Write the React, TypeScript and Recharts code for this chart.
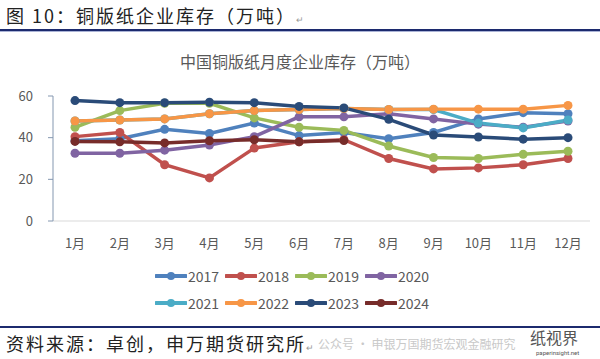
import React from 'react';
import { LineChart, Line, XAxis, YAxis } from 'recharts';

const months = ['1月', '2月', '3月', '4月', '5月', '6月', '7月', '8月', '9月', '10月', '11月', '12月'];
const yTicks = [0, 20, 40, 60];

const s2017 = [38.5, 39.5, 44, 42, 47, 41, 42.5, 39.5, 42.5, 49, 52, 51.5];
const s2018 = [40.5, 42.5, 27, 20.7, 35, 38, 39, 30, 25, 25.5, 27, 30];
const s2019 = [45, 53, 56.5, 56.5, 49.5, 45, 43.5, 36, 30.5, 30, 32, 33.5];
const s2020 = [32.5, 32.5, 34, 36.5, 40.5, 50, 50, 51.5, 49, 46.5, 45, 48];
const s2021 = [48, 48.5, 49, 51.5, 53, 53.5, 54, 53.5, 53.5, 47, 44.7, 48.5];
const s2022 = [48, 48.5, 49, 51.5, 53, 53.5, 54, 53.5, 53.7, 53.7, 53.7, 55.5];
const s2023 = [57.8, 56.8, 56.8, 57, 56.8, 55, 54.3, 48.8, 41.3, 40.3, 39.3, 40];
const s2024 = [38.2, 38, 37.5, 38.5, 39, 38, 38.6];

const series = [
  { key: '2017', values: s2017, color: '#4f81bd' },
  { key: '2018', values: s2018, color: '#c0504d' },
  { key: '2019', values: s2019, color: '#9bbb59' },
  { key: '2020', values: s2020, color: '#8064a2' },
  { key: '2021', values: s2021, color: '#4bacc6' },
  { key: '2022', values: s2022, color: '#f79646' },
  { key: '2023', values: s2023, color: '#2a4b78' },
  { key: '2024', values: s2024, color: '#772c2a' },
];

const data = months.map((m, i) => {
  const row: Record<string, string | number | undefined> = { month: m };
  series.forEach((s) => {
    row[s.key] = s.values[i];
  });
  return row;
});

const cjk = '"Noto Sans CJK SC", "Noto Sans", sans-serif';
const narrow = '"Liberation Sans Narrow", "Arial Narrow", "Noto Sans CJK SC", sans-serif';

function LegendBox() {
  return (
    <div style={{ width: 290, margin: '0 auto', display: 'flex', flexWrap: 'wrap' }}>
      {series.map((s) => (
        <div key={s.key} style={{ width: 70, height: 27, display: 'flex', alignItems: 'center' }}>
          <svg width={32} height={10}>
            <line x1={1} y1={5} x2={31} y2={5} stroke={s.color} strokeWidth={4} strokeLinecap="round" />
            <circle cx={16} cy={5} r={4} fill={s.color} />
          </svg>
          <span style={{ fontFamily: narrow, fontSize: 14, color: '#595959', marginLeft: 1 }}>{s.key}</span>
        </div>
      ))}
    </div>
  );
}

export default function App() {
  return (
    <div style={{ position: 'fixed', left: 0, top: 0, width: 600, height: 359, background: '#fff', overflow: 'hidden' }}>
      <div style={{ position: 'absolute', left: 6, top: 2, fontFamily: cjk, fontSize: 18, letterSpacing: 2, color: '#222', fontWeight: 400 }}>
        图 10：铜版纸企业库存（万吨）<span style={{ fontSize: 9, color: '#999' }}>↵</span>
      </div>
      <div style={{ position: 'absolute', left: 0, top: 29, width: 600, height: 2, background: '#1c2a6e' }} />
      <div style={{ position: 'absolute', left: 0, top: 31, width: 600, height: 1, background: '#aab3d6' }} />
      <div style={{ position: 'absolute', left: 0, top: 49, width: 600, textAlign: 'center', fontFamily: cjk, fontSize: 16, color: '#595959' }}>
        中国铜版纸月度企业库存（万吨）
      </div>
      <div style={{ position: 'absolute', left: 0, top: 0 }}>
        <LineChart width={600} height={359} data={data} margin={{ top: 96, right: 10, bottom: 108, left: 0 }}>
          <XAxis
            dataKey="month"
            height={30}
            padding={{ left: 22, right: 22 }}
            axisLine={{ stroke: '#d9d9d9' }}
            tickLine={false}
            tickMargin={12}
            tick={{ fill: '#595959', fontSize: 13, fontFamily: cjk }}
            interval={0}
          />
          <YAxis
            width={53}
            domain={[0, 60]}
            ticks={yTicks}
            axisLine={{ stroke: '#8497b0' }}
            tickLine={{ stroke: '#8497b0' }}
            tickSize={5}
            tickMargin={15}
            tick={{ fill: '#595959', fontSize: 13, fontFamily: narrow }}
          />
          {series.map((s) => (
            <Line
              key={s.key}
              dataKey={s.key}
              stroke={s.color}
              strokeWidth={3.5}
              dot={{ r: 4.5, fill: s.color, stroke: s.color, strokeWidth: 0 }}
              isAnimationActive={false}
            />
          ))}
        </LineChart>
      </div>
      <div style={{ position: 'absolute', left: 0, top: 262, width: 600 }}>
        <LegendBox />
      </div>
      <div style={{ position: 'absolute', left: 0, top: 326, width: 600, height: 2, background: '#1c2a6e' }} />
      <div style={{ position: 'absolute', left: 6, top: 330, fontFamily: cjk, fontSize: 18, letterSpacing: 2, color: '#222' }}>
        资料来源：卓创，申万期货研究所<span style={{ fontSize: 9, color: '#999' }}>↵</span>
      </div>
      <div style={{ position: 'absolute', left: 318, top: 335, fontFamily: cjk, fontSize: 12, color: '#c9c9c9' }}>
        公众号 · 申银万国期货宏观金融研究
      </div>
      <div style={{ position: 'absolute', left: 530, top: 325, fontFamily: cjk, fontSize: 16, color: '#555' }}>纸视界</div>
      <div style={{ position: 'absolute', left: 536, top: 349, fontFamily: 'Roboto, sans-serif', fontSize: 6, color: '#555' }}>paperinsight.net</div>
    </div>
  );
}
